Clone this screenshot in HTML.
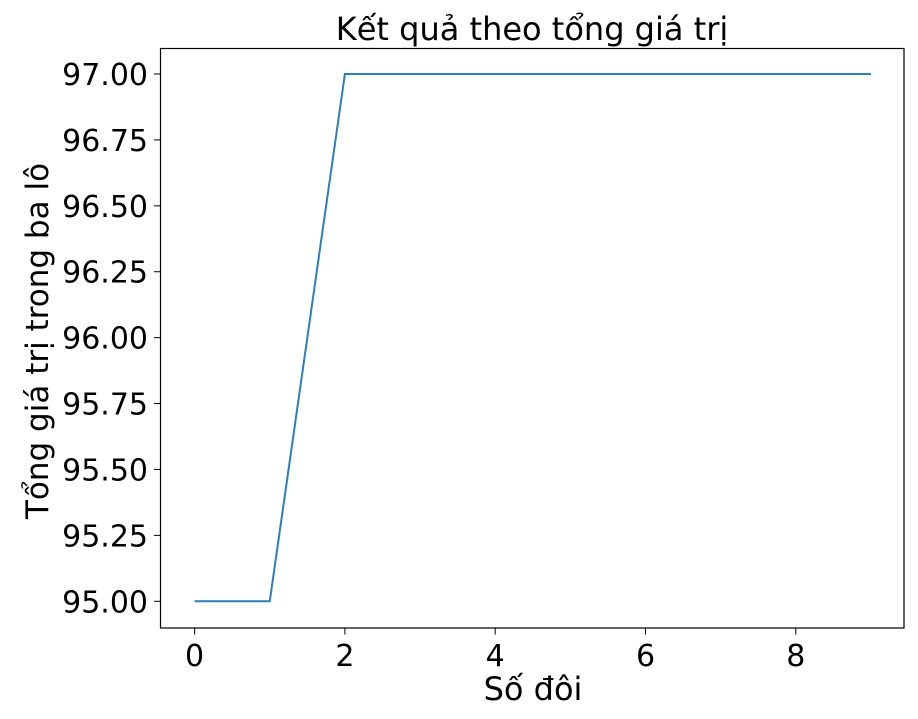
<!DOCTYPE html>
<html><head><meta charset="utf-8"><style>
html,body{margin:0;padding:0;background:#fff;}
svg text{font-family:"DejaVu Sans","Liberation Sans",sans-serif;fill:#000;}
</style></head><body>
<svg id="chart" width="918" height="714">
<text x="532" y="40" font-size="32" text-anchor="middle">Kết quả theo tổng giá trị</text>
<g id="yticks"></g><g id="xticks"></g>
<polyline id="line" fill="none" stroke="#2a7fba" stroke-width="2"/>
<rect x="160.5" y="48.5" width="743.5" height="579.5" fill="none" stroke="#000" stroke-width="1.2"/>
<text x="533" y="700" font-size="32" text-anchor="middle">Số đôi</text>
<text transform="translate(48,341) rotate(-90)" font-size="31" text-anchor="middle">Tổng giá trị trong ba lô</text>
</svg>
<script>
const xValues=[0,1,2,3,4,5,6,7,8,9];
const yValues=[95,95,97,97,97,97,97,97,97,97];
const xTickLabels=[0,2,4,6,8];
const yTickLabels=[95.00,95.25,95.50,95.75,96.00,96.25,96.50,96.75,97.00];
const NS="http://www.w3.org/2000/svg";
function sx(v){return 194.6+(v-0)*75.15;}
function sy(v){return 601.3-(v-95)*(601.3-74)/2;}
const line=document.getElementById('line');
line.setAttribute('points',xValues.map((x,i)=>sx(x)+','+sy(yValues[i])).join(' '));
const yg=document.getElementById('yticks');
yTickLabels.forEach(v=>{
 const l=document.createElementNS(NS,'line');
 l.setAttribute('x1',154);l.setAttribute('x2',160.5);l.setAttribute('y1',sy(v));l.setAttribute('y2',sy(v));l.setAttribute('stroke','#000');
 
 
 yg.appendChild(l);
 const t=document.createElementNS(NS,'text');
 t.setAttribute('x',148);t.setAttribute('y',sy(v)+11);t.setAttribute('font-size','30');t.setAttribute('text-anchor','end');
 t.textContent=v.toFixed(2);
 
 
 yg.appendChild(t);
});
const xg=document.getElementById('xticks');
xTickLabels.forEach(v=>{
 const l=document.createElementNS(NS,'line');
 l.setAttribute('x1',sx(v));l.setAttribute('x2',sx(v));l.setAttribute('y1',628);l.setAttribute('y2',634.5);l.setAttribute('stroke','#000');
 
 
 xg.appendChild(l);
 const t=document.createElementNS(NS,'text');
 t.setAttribute('x',sx(v));t.setAttribute('y',666);t.setAttribute('font-size','30');t.setAttribute('text-anchor','middle');
 t.textContent=v;
 
 
 xg.appendChild(t);
});
</script>
</body></html>
